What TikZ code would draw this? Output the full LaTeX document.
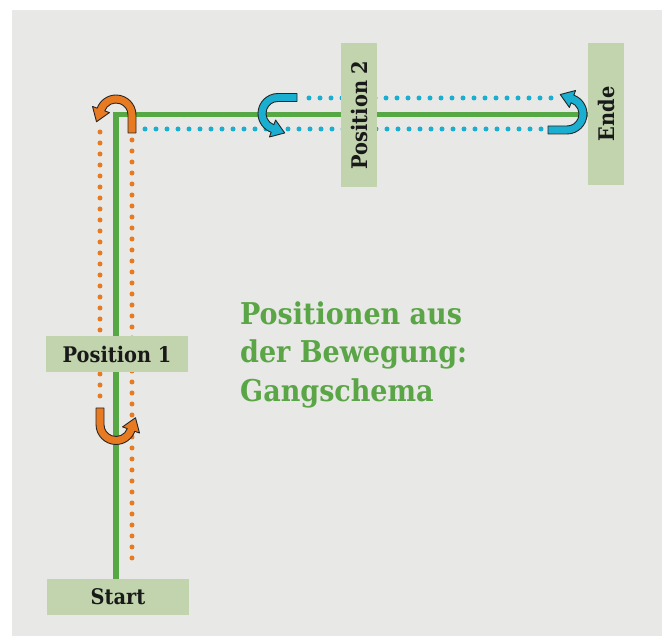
\documentclass[tikz,border=0pt]{standalone}
\usepackage{fontspec}
\setmainfont{DejaVu Serif}
\newfontfamily\labfont{DejaVu Serif Condensed}
\usetikzlibrary{calc}
\pgfdeclarelayer{back}
\pgfdeclarelayer{lines}
\pgfsetlayers{back,lines,main}
\definecolor{bgc}{HTML}{E8E8E6}
\definecolor{greenc}{HTML}{56A845}
\definecolor{titlec}{HTML}{5AA646}
\definecolor{orangec}{HTML}{E87A22}
\definecolor{cyanc}{HTML}{1AAFD0}
\definecolor{boxc}{HTML}{C2D4AE}
\tikzset{
  lbox/.style={fill=boxc, inner sep=0pt, text=black!90,
    font=\labfont\bfseries\fontsize{21.5}{24}\selectfont},
  gline/.style={draw=greenc, line width=5.5pt},
  dotline/.style={line width=5pt, line cap=round, dash pattern=on 0pt off 11pt},
  arrowline/.style={draw=black!85, line width=0.9pt, line join=round},
  titletext/.style={anchor=base west, inner sep=0pt, text=titlec,
    font=\labfont\bfseries\fontsize{30}{38}\selectfont},
  pics/uturn/.style 2 args={code={
    \filldraw[arrowline, fill=#1] (20,-#2) -- (20,0)
      arc[start angle=0, end angle=160, radius=20]
      -- (160:25) -- ([shift={(160:16)}]250:13) -- (160:7) -- (160:12)
      arc[start angle=160, end angle=0, radius=12]
      -- (12,-#2) -- cycle;
  }}
}
\begin{document}
\begin{tikzpicture}[x=1pt,y=1pt]
\useasboundingbox (0,0) rectangle (665,636);
\begin{pgfonlayer}{back}
  \fill[white] (0,0) rectangle (665,636);
  \fill[bgc] (12,0) rectangle (662,626);
\end{pgfonlayer}

% boxes
\node[lbox, minimum width=142pt, minimum height=36pt] (start) at (118,39) {Start};
\node[lbox, minimum width=142pt, minimum height=36pt] (pos1) at (117,282) {Position 1};
\node[lbox, minimum width=144pt, minimum height=36pt, rotate=90] (pos2) at (359,521) {Position 2};
\node[lbox, minimum width=142pt, minimum height=36pt, rotate=90] (ende) at (606,522) {Ende};

% title
\node[titletext] (t1) at (240,311) {Positionen aus};
\node[titletext] (t2) at (240,273.5) {der Bewegung:};
\node[titletext] (t3) at (240,234) {Gangschema};

% coordinates
\coordinate (corner) at (116,521.5);
\coordinate (oL1) at (100,504);
\coordinate (oL2) at (100,233);
\coordinate (oR1) at (132,496);
\coordinate (oR2) at (132,68);
\coordinate (cU1) at (309,538);
\coordinate (cU2) at (552,538);
\coordinate (cL1) at (145,507);
\coordinate (cL2) at (543,507);

\begin{pgfonlayer}{lines}
  \draw[gline] (start.north -| corner) -- (corner) -- (corner -| ende.north);
  \draw[dotline, draw=orangec] (oL1) -- (oL2);
  \draw[dotline, draw=orangec] (oR1) -- (oR2);
  \draw[dotline, draw=cyanc] (cU1) -- (cU2);
  \draw[dotline, draw=cyanc] (cL1) -- (cL2);
\end{pgfonlayer}

% u-turn arrows
\pic at (116,521) {uturn={orangec}{18}};
\pic[rotate=180] at (116,211.5) {uturn={orangec}{16.5}};
\pic[rotate=90] at (278,522.5) {uturn={cyanc}{19}};
\pic[rotate=-90] at (567,522) {uturn={cyanc}{19}};
\end{tikzpicture}
\end{document}
